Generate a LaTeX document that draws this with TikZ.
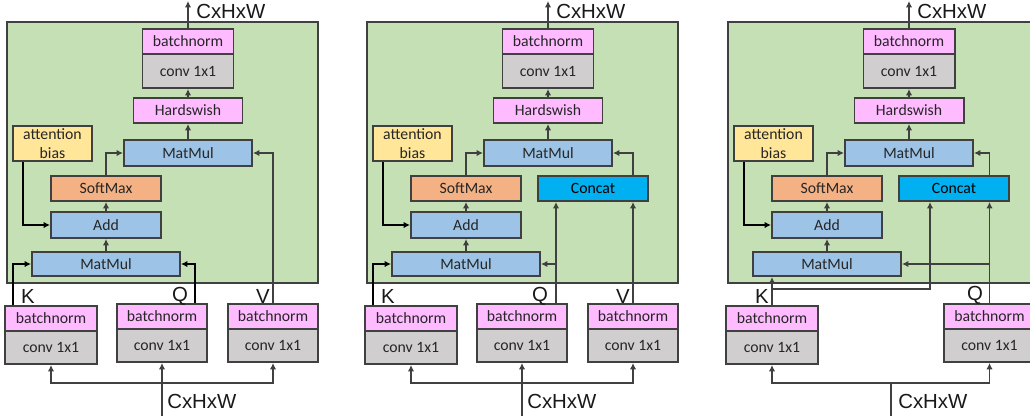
\documentclass[tikz,border=0pt]{standalone}
\usepackage{fontspec}
\setmainfont{Carlito}
\newfontfamily\labfont{Liberation Sans}
\usetikzlibrary{arrows.meta}
\definecolor{panelgreen}{HTML}{C5E0B4}
\definecolor{normpink}{HTML}{FFBBFF}
\definecolor{convgray}{HTML}{D0CECE}
\definecolor{mulblue}{HTML}{9DC3E6}
\definecolor{biasyellow}{HTML}{FFE699}
\definecolor{softorange}{HTML}{F4B183}
\definecolor{catcyan}{HTML}{00B0F0}
\definecolor{edgegray}{HTML}{404040}
\def\px{0.025cm}
\tikzset{
	blk/.style={draw=edgegray,line width=1.4pt,inner sep=0pt,text=black!85,align=center,font=\fontsize{11.2}{14}\selectfont},
	normbox/.style={blk,fill=normpink,minimum width=91*\px,minimum height=25*\px},
	convbox/.style={blk,fill=convgray,minimum width=91*\px,minimum height=34*\px},
	opbox/.style={blk,minimum height=25*\px},
	arr/.style={draw=edgegray,line width=1.1pt,-{Latex[length=4.5pt,width=4.5pt]}},
	karr/.style={arr,draw=black},
	lab/.style={font=\labfont\fontsize{14.5}{15}\selectfont,text=black!90,inner sep=0pt}
}

\begin{document}
\begin{tikzpicture}[x=\px,y=-\px]
	\clip (0,0) rectangle (1030,415);
	\fill[white] (0,0) rectangle (1030,415);
	
	%PANELS AND SHARED BLOCKS
	\foreach \p/\dx in {a/0,b/360,c/721}{
		\filldraw[fill=panelgreen,draw=edgegray,line width=1.4pt] (7+\dx,22) rectangle (318+\dx,283);
		\node[normbox] (\p-bn) at (188+\dx,41.5) {batchnorm};
		\node[convbox] (\p-conv) at (188+\dx,71) {conv 1x1};
		\node[opbox,fill=normpink,minimum width=109*\px] (\p-hs) at (188+\dx,110.5) {Hardswish};
		\node[opbox,fill=mulblue,minimum width=128*\px,minimum height=26*\px] (\p-mm) at (188+\dx,153) {MatMul};
		\node[blk,fill=biasyellow,minimum width=79*\px,minimum height=35*\px] (\p-bias) at (52.5+\dx,143.5) {attention\\bias};
		\node[opbox,fill=softorange,minimum width=110*\px] (\p-sm) at (106+\dx,188.5) {SoftMax};
		\node[opbox,fill=mulblue,minimum width=110*\px,minimum height=26*\px] (\p-add) at (106+\dx,225) {Add};
		\node[opbox,fill=mulblue,minimum width=148*\px,minimum height=24*\px] (\p-mm2) at (106+\dx,264) {MatMul};
		\node[normbox,minimum width=92*\px] (\p-kbn) at (51+\dx,318.5) {batchnorm};
		\node[convbox,minimum width=92*\px,minimum height=33*\px] (\p-kconv) at (51+\dx,347.5) {conv 1x1};
		\coordinate (\p-out) at (188+\dx,1);
		\node[lab,anchor=west] (\p-outlab) at (196+\dx,11) {CxHxW};
		
		\draw[arr] (\p-bn.north) -- (\p-out);
		\draw[arr] (\p-hs.north) -- (\p-conv.south);
		\draw[arr] (\p-mm.north) -- (\p-hs.south);
		\draw[arr] (\p-sm.north) |- (\p-mm.west);
		\draw[arr] (\p-add.north) -- (\p-sm.south);
		\draw[arr] (\p-mm2.north) -- (\p-add.south);
		\draw[karr] ([xshift=11*\px]\p-bias.south west) |- (\p-add.west);
	}
	
	%Q AND V BRANCHES, FIRST TWO PANELS
	\foreach \p/\dx in {a/0,b/360}{
		\node[normbox,minimum width=90*\px] (\p-qbn) at (162+\dx,316.5) {batchnorm};
		\node[convbox,minimum width=90*\px,minimum height=33*\px] (\p-qconv) at (162+\dx,345.5) {conv 1x1};
		\node[normbox,minimum width=90*\px] (\p-vbn) at (273+\dx,316.5) {batchnorm};
		\node[convbox,minimum width=90*\px,minimum height=33*\px] (\p-vconv) at (273+\dx,345.5) {conv 1x1};
		\node[lab] (\p-k) at (28+\dx,296) {K};
		\node[lab] (\p-q) at (180+\dx,296) {Q};
		\node[lab] (\p-v) at (263+\dx,296) {V};
		\coordinate (\p-in) at (162+\dx,416);
		\coordinate (\p-join) at (162+\dx,383);
		\node[lab,anchor=west] (\p-inlab) at (167+\dx,401) {CxHxW};
		
		\draw[karr] ([xshift=9*\px]\p-kbn.north west) |- (\p-mm2.west);
		\draw[arr] (\p-in) -- (\p-qconv.south);
		\draw[arr] (\p-join) -| (\p-kconv.south);
		\draw[arr] (\p-join) -| (\p-vconv.south);
	}
	\draw[karr] ([xshift=-13*\px]a-qbn.north east) |- (a-mm2.east);
	\draw[arr] (a-vbn.north) |- (a-mm.east);
	
	%CONCAT, SECOND PANEL
	\node[opbox,fill=catcyan,text=black,minimum width=110*\px] (b-cc) at (593,188.5) {Concat};
	\coordinate (b-qtop) at ([xshift=-12*\px]b-qbn.north east);
	\draw[arr] (b-qtop) -- (b-qtop |- b-cc.south);
	\draw[arr] (b-qtop |- b-mm2.east) -- (b-mm2.east);
	\draw[arr] (b-vbn.north) -- (b-vbn.north |- b-cc.south);
	\draw[arr] (b-vbn.north |- b-cc.north) |- (b-mm.east);
	
	%THIRD PANEL, K AND Q ONLY
	\node[opbox,fill=catcyan,text=black,minimum width=110*\px] (c-cc) at (954,188.5) {Concat};
	\node[normbox] (c-qbn) at (989.5,316.5) {batchnorm};
	\node[convbox,minimum height=33*\px] (c-qconv) at (989.5,345.5) {conv 1x1};
	\node[lab] (c-k) at (762,296) {K};
	\node[lab] (c-q) at (975,295) {Q};
	\coordinate (c-kk) at (930,289);
	\coordinate (c-in) at (891,416);
	\coordinate (c-join) at (891,383);
	\node[lab,anchor=west] (c-inlab) at (898,401) {CxHxW};
	
	\draw[arr] (c-kbn.north) -- (c-kbn.north |- c-mm2.south);
	\draw[arr] (c-kbn.north |- c-kk) -- (c-kk) -- (c-kk |- c-cc.south);
	\draw[arr] (c-qbn.north) -- (c-qbn.north |- c-cc.south);
	\draw[arr] (c-qbn.north |- c-mm2.east) -- (c-mm2.east);
	\draw[arr] (c-qbn.north |- c-cc.north) |- (c-mm.east);
	\draw[arr] (c-in) -- (c-join) -| (c-kconv.south);
	\draw[arr] (c-join) -| (c-qconv.south);
\end{tikzpicture}
\end{document}
